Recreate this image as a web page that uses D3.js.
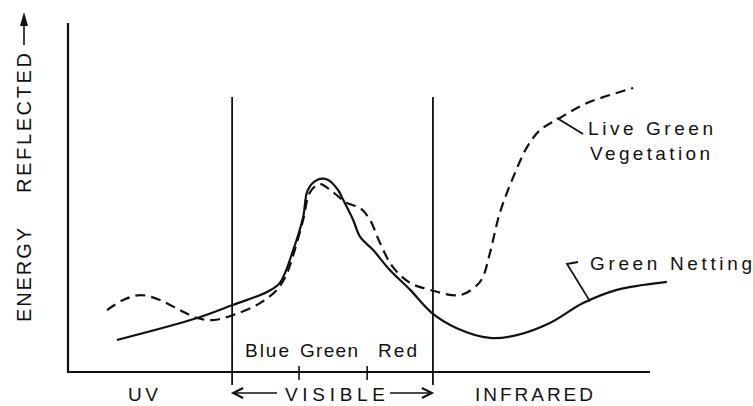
<!DOCTYPE html>
<html>
<head>
<meta charset="utf-8">
<script src="https://cdn.jsdelivr.net/npm/d3@7/dist/d3.min.js"></script>
<style>
  html, body { margin: 0; padding: 0; background: #fff; }
  svg { display: block; }
  text { font-family: "Liberation Sans", Arial, sans-serif; fill: #111; }
</style>
</head>
<body>
<svg id="chart" width="753" height="406"></svg>
<script>
// ---- data (arbitrary wavelength units 0-100, relative energy 0-100) ----
const nettingX = [8.4, 22.2, 28.4, 34.2, 36.4, 38.7, 40.4, 41.2, 42.8, 44.7, 46.4, 47.3, 49.0, 50.2, 52.4, 55.3, 58.8, 62.5, 66.8, 72.5, 77.1, 82.8, 88.5, 94.3, 98.8, 102.9];
const nettingY = [9.2, 15.5, 19.3, 23.0, 25.6, 35.1, 44.5, 52.3, 55.2, 55.2, 52.3, 49.4, 43.7, 38.8, 35.1, 29.3, 23.6, 17.0, 12.6, 9.8, 10.6, 14.1, 19.8, 23.6, 25.0, 25.9];

const vegX = [6.7, 9.5, 12.4, 15.8, 19.2, 22.2, 24.9, 28.4, 33.0, 35.9, 37.5, 38.7, 40.4, 41.6, 43.3, 45.5, 47.9, 50.2, 51.9, 53.6, 55.8, 58.8, 62.2, 67.4, 70.3, 71.3, 72.5, 74.2, 76.5, 78.9, 81.1, 84.5, 89.2, 97.1];
const vegY = [17.8, 20.7, 22.1, 20.7, 17.8, 15.5, 14.9, 16.4, 19.8, 23.6, 27.9, 33.6, 43.7, 51.7, 54.0, 51.7, 48.6, 47.1, 43.7, 37.1, 30.2, 25.6, 23.6, 22.1, 25.0, 27.3, 34.2, 45.7, 56.0, 64.7, 69.5, 73.0, 77.3, 81.6];

const regionEdges = [28.2, 62.7];          // UV | VISIBLE | INFRARED boundaries
const colourTicks = [39.7, 51.4];          // Blue | Green | Red boundaries
const regionLabels = ["UV", "VISIBLE", "INFRARED"];
const colourLabels = ["Blue", "Green", "Red"];
const seriesLabels = ["Live Green", "Vegetation", "Green Netting"];
const axisLabel = ["ENERGY", "REFLECTED"];

// ---- drawing ----
const svg = d3.select("#chart");
const x = d3.scaleLinear().domain([0, 100]).range([68, 650]);
const y = d3.scaleLinear().domain([0, 100]).range([372, 24]);

const ink = "#111";

// axes
svg.append("line").attr("x1", x(0)).attr("x2", x(0)).attr("y1", y(0) + 1).attr("y2", y(100) - 1)
  .attr("stroke", ink).attr("stroke-width", 2.2);
svg.append("line").attr("x1", x(0) - 1).attr("x2", x(100)).attr("y1", y(0)).attr("y2", y(0))
  .attr("stroke", ink).attr("stroke-width", 2.2);

// region boundary lines
regionEdges.forEach(v => {
  svg.append("line").attr("x1", x(v)).attr("x2", x(v)).attr("y1", y(79)).attr("y2", y(0) + 13)
    .attr("stroke", ink).attr("stroke-width", 1.8);
});
// colour ticks
colourTicks.forEach(v => {
  svg.append("line").attr("x1", x(v)).attr("x2", x(v)).attr("y1", y(0) - 6).attr("y2", y(0) + 8)
    .attr("stroke", ink).attr("stroke-width", 1.6);
});

// curves
const line = d3.line().x(d => x(d[0])).y(d => y(d[1])).curve(d3.curveCatmullRom.alpha(0.5));
const netting = nettingX.map((v, i) => [v, nettingY[i]]);
const veg = vegX.map((v, i) => [v, vegY[i]]);

svg.append("path").attr("d", line(veg)).attr("fill", "none").attr("stroke", ink)
  .attr("stroke-width", 2.2).attr("stroke-dasharray", "10,6");
svg.append("path").attr("d", line(netting)).attr("fill", "none").attr("stroke", ink)
  .attr("stroke-width", 2.2);

// colour labels
const colourPos = [245, 300, 378];
const colourLen = [44, 58, 39];
colourLabels.forEach((t, i) => {
  svg.append("text").attr("x", colourPos[i]).attr("y", 357).attr("font-size", 19)
    .attr("textLength", colourLen[i]).attr("lengthAdjust", "spacing").text(t);
});

// region labels
const regionPos = [128, 285, 475];
const regionLen = [30, 100, 118];
regionLabels.forEach((t, i) => {
  svg.append("text").attr("x", regionPos[i]).attr("y", 401).attr("font-size", 19)
    .attr("textLength", regionLen[i]).attr("lengthAdjust", "spacing").text(t);
});

// arrows for VISIBLE
function arrow(x1, x2, yy) {
  const dir = Math.sign(x2 - x1);
  svg.append("line").attr("x1", x1).attr("x2", x2).attr("y1", yy).attr("y2", yy)
    .attr("stroke", ink).attr("stroke-width", 1.6);
  svg.append("path")
    .attr("d", `M${x2 - dir * 10},${yy - 5} L${x2},${yy} L${x2 - dir * 10},${yy + 5}`)
    .attr("fill", "none").attr("stroke", ink).attr("stroke-width", 2);
}
arrow(277, x(regionEdges[0]) + 1, 393);
arrow(390, x(regionEdges[1]) - 1, 393);

// y axis label
const yl = svg.append("g");
yl.append("text").attr("transform", "translate(31,322) rotate(-90)").attr("font-size", 20)
  .attr("textLength", 94).attr("lengthAdjust", "spacing").text(axisLabel[0]);
yl.append("text").attr("transform", "translate(31,193) rotate(-90)").attr("font-size", 20)
  .attr("textLength", 140).attr("lengthAdjust", "spacing").text(axisLabel[1]);
yl.append("line").attr("x1", 24).attr("x2", 24).attr("y1", 45).attr("y2", 16)
  .attr("stroke", ink).attr("stroke-width", 1.6);
yl.append("path").attr("d", "M20,26 L24,12 L28,26 Z").attr("fill", ink);

// series annotations
svg.append("text").attr("x", 588).attr("y", 135).attr("font-size", 19)
  .attr("textLength", 125).attr("lengthAdjust", "spacing").text(seriesLabels[0]);
svg.append("text").attr("x", 590).attr("y", 160).attr("font-size", 19)
  .attr("textLength", 120).attr("lengthAdjust", "spacing").text(seriesLabels[1]);
svg.append("text").attr("x", 590).attr("y", 270).attr("font-size", 19)
  .attr("textLength", 162).attr("lengthAdjust", "spacing").text(seriesLabels[2]);

// leader lines
svg.append("path").attr("d", `M${x(84.0)},${y(73.0)} L583,134`)
  .attr("fill", "none").attr("stroke", ink).attr("stroke-width", 1.8);
svg.append("path").attr("d", `M578,262 L567,264 L${x(89.7)},${y(20.3)}`)
  .attr("fill", "none").attr("stroke", ink).attr("stroke-width", 1.8);
</script>
</body>
</html>
